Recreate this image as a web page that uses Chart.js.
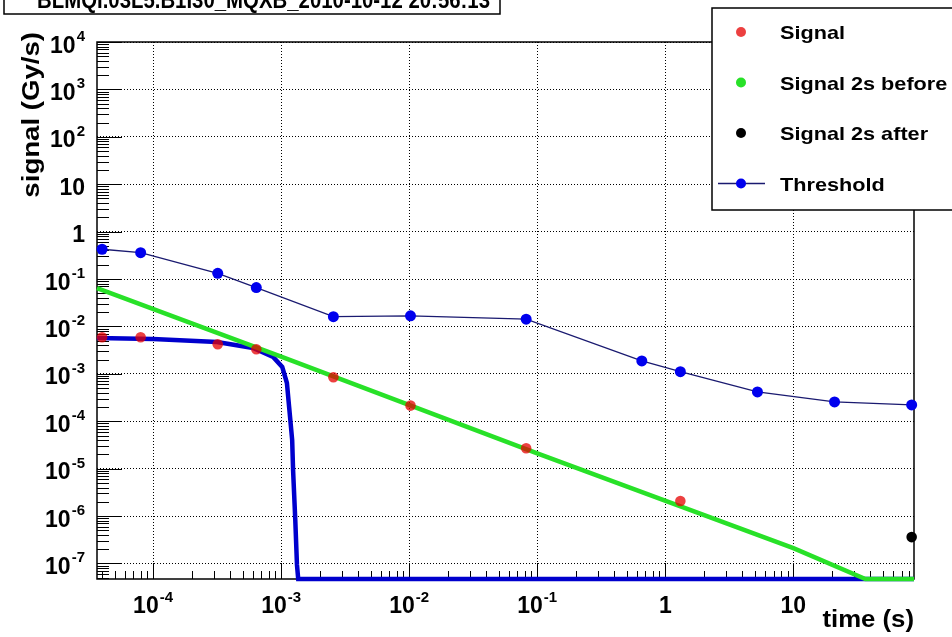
<!DOCTYPE html>
<html>
<head>
<meta charset="UTF-8">
<title>BLM signal</title>
<script src="https://cdn.jsdelivr.net/npm/chart.js@4.4.0/dist/chart.umd.min.js"></script>
<style>
	html, body {margin:0; padding:0; background:#fff;}
	#box {width:952px; height:637px;}
</style>
</head>
<body>
<div id="box"><canvas id="myChart" width="952" height="637"></canvas></div>
<script>
	// running sum times (s)
	const times = [4e-5, 8e-5, 3.2e-4, 6.4e-4, 2.56e-3, 1.024e-2, 8.192e-2, 0.6554, 1.311, 5.243, 20.97, 83.89];
	const threshold = [0.425, 0.36, 0.132, 0.066, 0.0161, 0.0167, 0.0142, 1.87e-3, 1.11e-3, 4.15e-4, 2.55e-4, 2.21e-4];
	const signalTimes = [4e-5, 8e-5, 3.2e-4, 6.4e-4, 2.56e-3, 1.024e-2, 8.192e-2, 1.311];
	const signal = [5.9e-3, 5.9e-3, 4.2e-3, 3.3e-3, 8.5e-4, 2.14e-4, 2.7e-5, 2.08e-6];
	const afterTimes = [83.89];
	const afterSignal = [3.6e-7];
	// green curve, read along its length
	const beforeTimes = [3.65e-5, 1e-3, 0.1, 10, 36.5, 87.5];
	const beforeSignal = [0.064, 2.3e-3, 2.1e-5, 2.1e-7, 4.7e-8, 4.7e-8];
	// thick blue curve
	const curveTimes = [3.65e-5, 1e-4, 3.16e-4, 6.04e-4, 8.66e-4, 1.02e-3, 1.11e-3, 1.155e-3, 1.22e-3, 1.24e-3, 1.29e-3, 1.33e-3, 1.36e-3, 87.5];
	const curveSignal = [5.7e-3, 5.45e-3, 4.7e-3, 3.5e-3, 2.27e-3, 1.4e-3, 6.4e-4, 2.0e-4, 4.0e-5, 9.3e-6, 8.3e-7, 9.3e-8, 4.7e-8, 4.7e-8];

	const xTicks = [1e-4, 1e-3, 1e-2, 1e-1, 1, 10];
	const xTickLabels = [['10','-4'], ['10','-3'], ['10','-2'], ['10','-1'], ['1',''], ['10','']];
	const yTicks = [1e-7, 1e-6, 1e-5, 1e-4, 1e-3, 1e-2, 1e-1, 1, 10, 1e2, 1e3, 1e4];
	const yTickLabels = [['10','-7'], ['10','-6'], ['10','-5'], ['10','-4'], ['10','-3'], ['10','-2'], ['10','-1'], ['1',''], ['10',''], ['10','2'], ['10','3'], ['10','4']];

	const title = 'BLMQI.03L5.B1I30_MQXB_2010-10-12 20:56:13';
	const FONT = '"Liberation Sans", Arial, sans-serif';

	function pts(xs, ys) { return ys.map((y, i) => ({x: xs[i], y: y})); }

	// text a bit wider than Arial, like the ROOT picture
	function wideText(ctx, txt, x, y, sx, align) {
		ctx.save();
		ctx.translate(x, y);
		ctx.scale(sx, 1);
		ctx.textAlign = align;
		ctx.fillText(txt, 0, 0);
		ctx.restore();
	}

	function powLabel(ctx, lab, x, y, align) {
		ctx.font = 'bold 23px ' + FONT;
		let wb = ctx.measureText(lab[0]).width;
		ctx.font = 'bold 15px ' + FONT;
		let we = lab[1] ? ctx.measureText(lab[1]).width + 1 : 0;
		let total = wb + we;
		let x0 = align == 'right' ? x - total : x - total / 2;
		ctx.textAlign = 'left';
		ctx.font = 'bold 23px ' + FONT;
		ctx.fillText(lab[0], x0, y);
		if (lab[1]) {
			ctx.font = 'bold 15px ' + FONT;
			ctx.fillText(lab[1], x0 + wb + 1, y - 11.5);
		}
	}

	const rootPlugin = {
		id: 'rootStyle',
		beforeDraw(chart) {
			let c = chart.ctx;
			c.save();
			c.fillStyle = '#fff';
			c.fillRect(0, 0, chart.width, chart.height);
			c.restore();
		},
		beforeDatasetsDraw(chart) {
			let c = chart.ctx, a = chart.chartArea;
			let xs = chart.scales.x, ys = chart.scales.y;
			c.save();
			c.strokeStyle = '#000';
			c.lineWidth = 1;
			c.beginPath();
			// y ticks (inside, left)
			for (let d = -8; d <= 4; d++) {
				for (let k = 1; k <= 9; k++) {
					let v = k * Math.pow(10, d);
					if (v < ys.min * 0.999 || v > ys.max * 1.001) continue;
					let py = Math.round(ys.getPixelForValue(v)) + 0.5;
					c.moveTo(a.left, py);
					c.lineTo(a.left + (k == 1 ? 25 : 12), py);
				}
			}
			// x ticks (inside, bottom)
			for (let d = -5; d <= 2; d++) {
				for (let k = 1; k <= 9; k++) {
					let v = k * Math.pow(10, d);
					if (v < xs.min * 0.999 || v > xs.max * 1.001) continue;
					let px = Math.round(xs.getPixelForValue(v)) + 0.5;
					c.moveTo(px, a.bottom);
					c.lineTo(px, a.bottom - (k == 1 ? 16 : 8));
				}
			}
			c.stroke();
			c.lineWidth = 1.5;
			c.strokeRect(a.left, a.top, a.right - a.left, a.bottom - a.top);
			c.restore();
		},
		afterDraw(chart) {
			let c = chart.ctx, a = chart.chartArea;
			let xs = chart.scales.x, ys = chart.scales.y;
			c.save();
			c.fillStyle = '#000';
			c.textBaseline = 'alphabetic';
			// tick labels
			yTicks.forEach((v, i) => {
				powLabel(c, yTickLabels[i], a.left - 12, ys.getPixelForValue(v) + 10.5, 'right');
			});
			xTicks.forEach((v, i) => {
				powLabel(c, xTickLabels[i], xs.getPixelForValue(v), a.bottom + 34, 'center');
			});
			// axis titles
			c.font = 'bold 23px ' + FONT;
			wideText(c, 'time (s)', a.right, 627, 1.12, 'right');
			c.save();
			c.translate(39, a.top - 10);
			c.rotate(-Math.PI / 2);
			wideText(c, 'signal (Gy/s)', 0, 0, 1.2, 'right');
			c.restore();

			// title box
			c.fillStyle = '#fff';
			c.fillRect(4, -20, 496, 34);
			c.strokeStyle = '#000';
			c.lineWidth = 1.5;
			c.strokeRect(4, -20, 496, 34);
			c.fillStyle = '#000';
			c.font = 'bold 24px ' + FONT;
			let tw = c.measureText(title).width;
			wideText(c, title, 37, 8, 453 / tw, 'left');

			// legend box
			c.fillStyle = '#fff';
			c.fillRect(712, 8, 250, 202);
			c.lineWidth = 1.5;
			c.strokeRect(712, 8, 250, 202);
			let items = chart.data.datasets.filter(d => d.label);
			items.sort((p, q) => p.legendPos - q.legendPos);
			items.forEach((d, i) => {
				let yy = 32 + i * 50.5;
				if (d.legendLine) {
					c.strokeStyle = d.borderColor;
					c.lineWidth = 1.5;
					c.beginPath();
					c.moveTo(718, yy);
					c.lineTo(765, yy);
					c.stroke();
				}
				c.fillStyle = d.pointBackgroundColor;
				c.beginPath();
				c.arc(741, yy, 5, 0, Math.PI * 2);
				c.fill();
				c.fillStyle = '#000';
				c.font = 'bold 19px ' + FONT;
				wideText(c, d.label, 780, yy + 7, 1.14, 'left');
			});
			c.restore();
		}
	};

	const ctx = document.getElementById('myChart');
	const chart = new Chart(ctx, {
		type: 'scatter',
		data: {
			datasets: [
				{
					label: 'Signal',
					legendPos: 0,
					data: pts(signalTimes, signal),
					pointRadius: 5.3,
					pointBorderWidth: 0,
					pointBackgroundColor: 'rgba(230,0,0,0.75)',
					clip: false,
					order: 0
				},
				{
					label: 'Signal 2s after',
					legendPos: 2,
					data: pts(afterTimes, afterSignal),
					pointRadius: 5.3,
					pointBorderWidth: 0,
					pointBackgroundColor: '#000',
					clip: false,
					order: 1
				},
				{
					label: 'Threshold',
					legendPos: 3,
					legendLine: true,
					data: pts(times, threshold),
					showLine: true,
					borderColor: '#1a1a70',
					borderWidth: 1.3,
					pointRadius: 5.5,
					pointBorderWidth: 0,
					pointBackgroundColor: '#0000ee',
					clip: false,
					order: 2
				},
				{
					label: 'Signal 2s before',
					legendPos: 1,
					data: pts(beforeTimes, beforeSignal),
					showLine: true,
					borderColor: 'rgb(40,225,40)',
					borderWidth: 4.5,
					pointRadius: 0,
					pointBackgroundColor: 'rgb(40,225,40)',
					clip: 3,
					order: 3
				},
				{
					data: pts(curveTimes, curveSignal),
					showLine: true,
					borderColor: 'rgb(0,0,205)',
					borderWidth: 4.5,
					pointRadius: 0,
					clip: 3,
					order: 4
				}
			]
		},
		options: {
			responsive: false,
			animation: false,
			devicePixelRatio: 1,
			layout: {padding: {left: 97, top: 42, right: 38, bottom: 58}},
			plugins: {legend: {display: false}, tooltip: {enabled: false}},
			scales: {
				x: {
					type: 'logarithmic',
					min: 3.65e-5,
					max: 87.5,
					afterBuildTicks: s => { s.ticks = xTicks.map(v => ({value: v})); },
					ticks: {display: false},
					grid: {color: '#000', lineWidth: 1, drawTicks: false},
					border: {display: false, dash: [1, 2]}
				},
				y: {
					type: 'logarithmic',
					min: 4.7e-8,
					max: 1e4,
					afterBuildTicks: s => { s.ticks = yTicks.map(v => ({value: v})); },
					ticks: {display: false},
					grid: {color: '#000', lineWidth: 1, drawTicks: false},
					border: {display: false, dash: [1, 2]}
				}
			}
		},
		plugins: [rootPlugin]
	});
</script>
</body>
</html>
